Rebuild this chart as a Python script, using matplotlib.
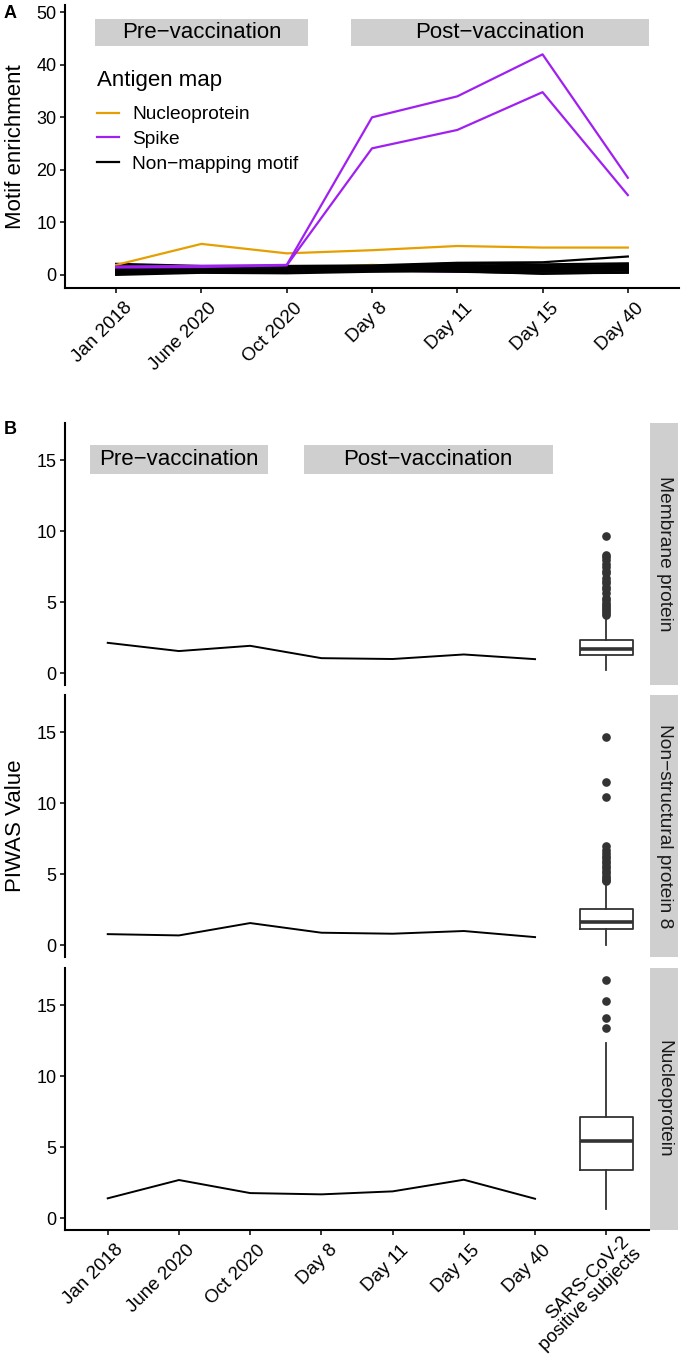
import matplotlib
matplotlib.use("Agg")
import matplotlib.pyplot as plt
from matplotlib.lines import Line2D
from matplotlib.patches import Rectangle
from matplotlib.transforms import ScaledTranslation

plt.rcParams['font.family'] = ['Liberation Sans', 'DejaVu Sans']

# ---------------- data ----------------
timepoints = ["Jan 2018", "June 2020", "Oct 2020", "Day 8", "Day 11", "Day 15", "Day 40"]
box_label = "SARS-CoV-2\npositive subjects"

# Panel A: motif enrichment
nucleo_motifs = [
    [1.9, 5.9, 4.1, 4.7, 5.5, 5.2, 5.2],
    [1.2, 1.3, 1.2, 1.9, 1.4, 1.2, 1.1],
]
spike_motifs = [
    [1.6, 1.7, 1.9, 30.0, 34.0, 42.0, 18.5],
    [1.4, 1.5, 1.8, 24.1, 27.6, 34.8, 15.2],
    [1.7, 1.5, 1.5, 1.2, 0.9, 1.4, 1.7],
    [1.2, 1.3, 1.4, 0.9, 0.6, 0.8, 1.2],
    [0.8, 1.0, 1.1, 1.3, 1.1, 1.6, 0.9],
]
nonmapping_motifs = [
    [0.0, 0.4, 0.3, 0.6, 0.7, 0.2, 0.5],
    [0.3, 0.5, 0.6, 0.8, 0.9, 0.6, 0.8],
    [0.6, 0.7, 0.8, 1.0, 1.1, 0.9, 1.0],
    [0.9, 0.9, 1.0, 1.2, 1.3, 1.2, 1.3],
    [1.2, 1.1, 1.2, 1.3, 1.6, 1.4, 1.6],
    [1.5, 1.3, 1.4, 1.5, 1.9, 1.7, 1.9],
    [1.8, 1.5, 1.6, 1.6, 2.2, 2.0, 2.2],
    [2.1, 1.7, 1.7, 1.8, 2.3, 2.4, 3.5],
    [1.0, 0.6, 0.5, 0.9, 0.6, 0.3, 0.4],
    [0.4, 0.8, 0.9, 0.7, 1.0, 1.1, 1.5],
]

# Panel B: PIWAS values
facets = ["Membrane protein", "Non\u2212structural protein 8", "Nucleoprotein"]
piwas_membrane = [2.13, 1.55, 1.92, 1.05, 0.99, 1.31, 0.98]
piwas_nsp8 = [0.77, 0.68, 1.55, 0.87, 0.80, 0.99, 0.56]
piwas_nucleo = [1.39, 2.68, 1.76, 1.67, 1.88, 2.70, 1.36]

# boxplot summaries for SARS-CoV-2 positive subjects
box_whislo = [0.21, 0.03, 0.62]
box_q1 = [1.25, 1.10, 3.36]
box_med = [1.72, 1.64, 5.44]
box_q3 = [2.35, 2.52, 7.15]
box_whishi = [3.95, 4.35, 12.3]
fliers_membrane = [4.08, 4.2, 4.39, 4.5, 4.67, 4.8, 4.91, 5.14, 5.3, 5.61, 5.9, 6.08,
                   6.31, 6.5, 6.67, 7.02, 7.2, 7.49, 7.7, 7.96, 8.15, 8.31, 9.67]
fliers_nsp8 = [4.5, 4.6, 4.7, 4.85, 5.05, 5.2, 5.4, 5.6, 5.75, 5.9, 6.1, 6.3, 6.46,
               6.7, 7.0, 10.4, 11.48, 14.67]
fliers_nucleo = [13.36, 14.06, 15.28, 16.77]

# ---------------- style ----------------
W, H = 681, 1358
ORANGE = "#E69F00"
PURPLE = "#A020F0"
GREY = "#CFCFCF"
fig = plt.figure(figsize=(W / 100, H / 100), dpi=100)
label_shift = ScaledTranslation(7 / 100, -3 / 100, fig.dpi_scale_trans)
multi_shift = ScaledTranslation(14 / 100, 5 / 100, fig.dpi_scale_trans)


def rect(l, t, r, b):
    return [l / W, 1 - b / H, (r - l) / W, (b - t) / H]


def style_axis(ax, bottom=True):
    for s in ["top", "right"]:
        ax.spines[s].set_visible(False)
    ax.spines["left"].set_linewidth(1.5)
    ax.spines["bottom"].set_linewidth(1.5)
    ax.spines["bottom"].set_visible(bottom)
    ax.tick_params(axis="both", length=3.6, width=1.1, labelsize=13, pad=2.5,
                   colors="black")


def shift_xlabels(ax):
    for lab in ax.get_xticklabels():
        if "\n" in lab.get_text():
            lab.set_transform(lab.get_transform() + multi_shift)
        else:
            lab.set_transform(lab.get_transform() + label_shift)


# ---------------- Panel A ----------------
axA = fig.add_axes(rect(65, 5, 679, 288))
style_axis(axA)
x = list(range(1, len(timepoints) + 1))
for ys in nucleo_motifs[1:]:
    axA.plot(x, ys, color=ORANGE, lw=1.6)
for ys in spike_motifs[2:]:
    axA.plot(x, ys, color=PURPLE, lw=1.6)
for ys in nonmapping_motifs:
    axA.plot(x, ys, color="black", lw=1.6)
axA.plot(x, nucleo_motifs[0], color=ORANGE, lw=1.6)
for ys in spike_motifs[:2]:
    axA.plot(x, ys, color=PURPLE, lw=1.6)

axA.set_xlim(0.4, 7.6)
axA.set_ylim(-2.5, 51.4)
axA.set_yticks([0, 10, 20, 30, 40, 50])
axA.set_xticks(x)
axA.set_xticklabels(timepoints, rotation=45, ha="right", va="top",
                    rotation_mode="anchor", fontsize=13.5)
shift_xlabels(axA)

axA.add_patch(Rectangle((0.75, 43.5), 2.5, 5.2, facecolor=GREY, edgecolor="none"))
axA.add_patch(Rectangle((3.75, 43.5), 3.5, 5.2, facecolor=GREY, edgecolor="none"))
axA.text(2.0, 46.1, "Pre\u2212vaccination", ha="center", va="center", fontsize=16)
axA.text(5.5, 46.1, "Post\u2212vaccination", ha="center", va="center", fontsize=16)

handles = [Line2D([], [], color=ORANGE, lw=1.6),
           Line2D([], [], color=PURPLE, lw=1.6),
           Line2D([], [], color="black", lw=1.6)]
leg = axA.legend(handles, ["Nucleoprotein", "Spike", "Non\u2212mapping motif"],
                 title="Antigen map", loc="upper left",
                 bbox_to_anchor=(87 / W, 1 - 60 / H), bbox_transform=fig.transFigure,
                 frameon=False, fontsize=13.8, title_fontsize=16, borderpad=0,
                 handlelength=1.15, handletextpad=0.7, labelspacing=0.38,
                 alignment="left")
leg._legend_box.sep = 11
fig.text(16 / W, 1 - 147 / H, "Motif enrichment", rotation=90, ha="center",
         va="center", fontsize=16)
fig.text(4 / W, 1 - 14 / H, "A", fontsize=13, fontweight="bold", ha="left", va="center")

# ---------------- Panel B ----------------
panel_rows = [(423, 685), (695, 957), (968, 1230)]
piwas = [piwas_membrane, piwas_nsp8, piwas_nucleo]
fliers = [fliers_membrane, fliers_nsp8, fliers_nucleo]
xb = list(range(1, len(timepoints) + 2))
for i, (t, b) in enumerate(panel_rows):
    ax = fig.add_axes(rect(65, t, 649, b))
    last = i == len(panel_rows) - 1
    style_axis(ax, bottom=last)
    ax.plot(x, piwas[i], color="black", lw=1.4)
    stats = [dict(whislo=box_whislo[i], q1=box_q1[i], med=box_med[i], q3=box_q3[i],
                  whishi=box_whishi[i], fliers=fliers[i])]
    ax.bxp(stats, positions=[8], widths=0.75, showfliers=True, patch_artist=False,
           boxprops=dict(color="#333333", lw=1.3),
           whiskerprops=dict(color="#333333", lw=1.3),
           capprops=dict(lw=0),
           medianprops=dict(color="#333333", lw=2.6),
           flierprops=dict(marker="o", markerfacecolor="#333333",
                           markeredgecolor="#333333", markersize=5.2))
    ax.set_xlim(0.4, 8.6)
    ax.set_ylim(-0.84, 17.61)
    ax.set_yticks([0, 5, 10, 15])
    if last:
        ax.set_xticks(xb)
        ax.set_xticklabels(timepoints + [box_label], rotation=45, ha="right",
                           va="top", rotation_mode="anchor", fontsize=13.5,
                           multialignment="right", linespacing=1.0)
        shift_xlabels(ax)
    else:
        ax.set_xticks([])
    if i == 0:
        ax.add_patch(Rectangle((0.75, 14.0), 2.5, 2.05, facecolor=GREY, edgecolor="none"))
        ax.add_patch(Rectangle((3.75, 14.0), 3.5, 2.05, facecolor=GREY, edgecolor="none"))
        ax.text(2.0, 15.05, "Pre\u2212vaccination", ha="center", va="center", fontsize=16)
        ax.text(5.5, 15.05, "Post\u2212vaccination", ha="center", va="center", fontsize=16)
    # strip
    sax = fig.add_axes(rect(650, t, 678, b))
    sax.set_facecolor(GREY)
    for s in sax.spines.values():
        s.set_visible(False)
    sax.set_xticks([])
    sax.set_yticks([])
    sax.text(0.5, 0.5, facets[i], rotation=270, ha="center", va="center",
             fontsize=13.8, transform=sax.transAxes, color="#1A1A1A")

fig.text(16 / W, 1 - 826 / H, "PIWAS Value", rotation=90, ha="center",
         va="center", fontsize=16)
fig.text(4 / W, 1 - 429 / H, "B", fontsize=13, fontweight="bold", ha="left", va="center")

fig.savefig("out.png", dpi=100)
